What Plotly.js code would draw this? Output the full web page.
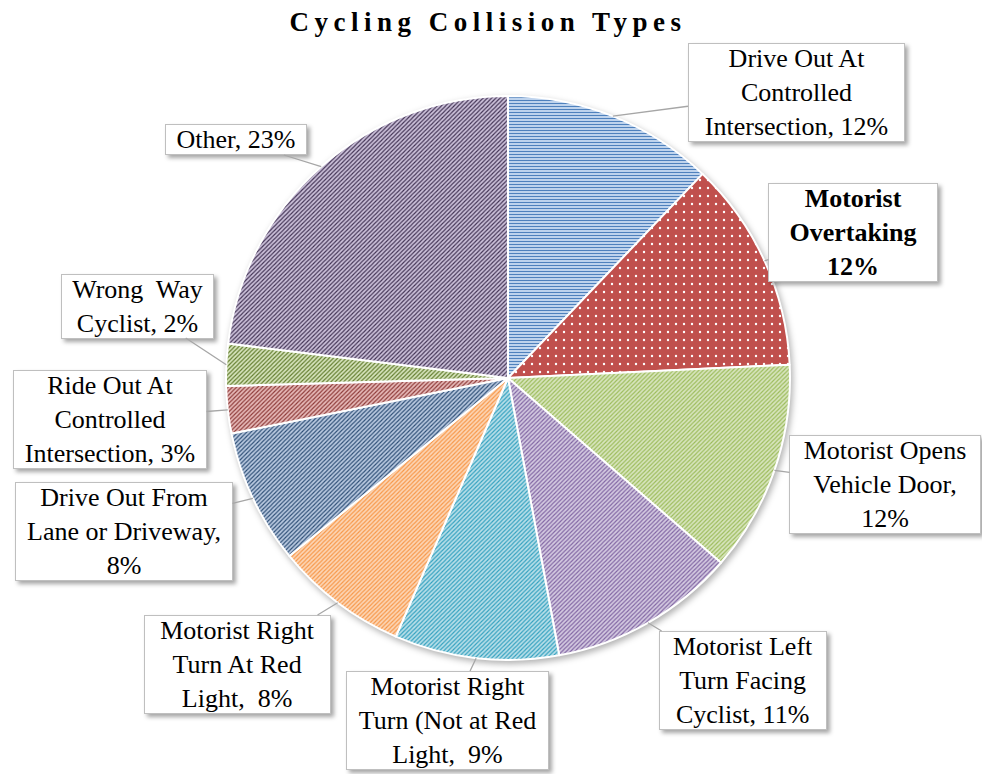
<!DOCTYPE html>
<html>
<head>
<meta charset="utf-8">
<script src="https://cdn.plot.ly/plotly-3.0.1.min.js"></script>
<style>
  html, body { margin: 0; padding: 0; background: #fff; }
  #chart { width: 982px; height: 774px; }
  .gtitle { letter-spacing: 5.5px; }
  .annotation-text-g rect.bg { filter: drop-shadow(3px 3px 2px rgba(0,0,0,0.35)); }
  .pielayer .trace { filter: drop-shadow(2px 3px 3px rgba(0,0,0,0.3)); }
</style>
</head>
<body>
<div id="chart"></div>
<script>
// ---- data ----
const categories = [
  "Drive Out At Controlled Intersection",
  "Motorist Overtaking",
  "Motorist Opens Vehicle Door",
  "Motorist Left Turn Facing Cyclist",
  "Motorist Right Turn (Not at Red Light",
  "Motorist Right Turn At Red Light",
  "Drive Out From Lane or Driveway",
  "Ride Out At Controlled Intersection",
  "Wrong Way Cyclist",
  "Other"
];
const values = [12.1, 12.1, 12.1, 10.7, 9.4, 7.6, 7.7, 2.7, 2.4, 23.0];
// label text as shown in the callouts; %p is replaced with the rounded percentage
const labelFormats = [
  "Drive Out At<br>Controlled<br>Intersection, %p",
  "<b>Motorist<br>Overtaking<br>%p</b>",
  "Motorist Opens<br>Vehicle Door,<br>%p",
  "Motorist Left<br>Turn Facing<br>Cyclist, %p",
  "Motorist Right<br>Turn (Not at Red<br>Light,  %p",
  "Motorist Right<br>Turn At Red<br>Light,  %p",
  "Drive Out From<br>Lane or Driveway,<br>%p",
  "Ride Out At<br>Controlled<br>Intersection, %p",
  "Wrong  Way<br>Cyclist, %p",
  "Other, %p"
];

// ---- style / layout ----
const bgColors = ["#c6d9f1", "#c0504d", "#d7e4bd", "#d3c9e0", "#b7dee8", "#fcd5b5", "#b9c9e0", "#e6b9b8", "#d7e4bd", "#ccc1da"];
const fgColors = ["#4f81bd", "#ffffff", "#9bbb59", "#8064a2", "#31a0bf", "#f79646", "#2c4d75", "#8c3836", "#5f7a2a", "#403152"];
const shapes   = ["-", ".", "/", "/", "/", "/", "/", "/", "/", "/"];
// callout box centers (pixels) and text widths
const boxCenters = [[796, 92], [853, 232], [885, 485], [743, 680], [447, 720], [237, 664], [124, 531], [110, 419], [137, 306], [236, 140]];
const boxWidths  = [215, 168, 190, 166, 201, 185, 216, 192, 151, 140];

const W = 982, H = 774;
const dom = { x: [0.2301, 0.8045], y: [0.1473, 0.8760] };

const total = values.reduce((a, b) => a + b, 0);
const cx = W * (dom.x[0] + dom.x[1]) / 2;
const cy = H * (1 - (dom.y[0] + dom.y[1]) / 2);
const R = Math.min(W * (dom.x[1] - dom.x[0]), H * (dom.y[1] - dom.y[0])) / 2;

const annotations = [];
let cum = 0;
values.forEach((v, i) => {
  const mid = (cum + v / 2) / total * 2 * Math.PI;
  cum += v;
  const px = cx + R * Math.sin(mid);
  const py = cy - R * Math.cos(mid);
  const pct = Math.round(v / total * 100) + "%";
  annotations.push({
    text: labelFormats[i].replace("%p", pct),
    x: px / W, y: 1 - py / H, xref: "paper", yref: "paper",
    ax: boxCenters[i][0] - px, ay: boxCenters[i][1] - py,
    showarrow: true, arrowhead: 0, arrowwidth: 1.3, arrowcolor: "#a6a6a6", standoff: 0,
    bgcolor: "#ffffff", bordercolor: "#bfbfbf", borderwidth: 1, borderpad: 0,
    width: boxWidths[i], align: "center",
    font: { family: "Liberation Serif, Times New Roman, serif", size: 26, color: "#000" }
  });
});

const trace = {
  type: "pie",
  labels: categories,
  values: values,
  sort: false,
  direction: "clockwise",
  rotation: 0,
  textinfo: "none",
  hoverinfo: "label+percent",
  domain: dom,
  marker: {
    colors: bgColors,
    line: { color: "#ffffff", width: 2 },
    pattern: {
      shape: shapes,
      bgcolor: bgColors,
      fgcolor: fgColors,
      size: shapes.map(s => s === "." ? 8 : 3),
      solidity: shapes.map(s => s === "." ? 0.07 : 0.38)
    }
  }
};

const layout = {
  width: W, height: H,
  margin: { l: 0, r: 0, t: 0, b: 0 },
  paper_bgcolor: "#ffffff",
  showlegend: false,
  title: {
    text: "<b>Cycling Collision Types</b>",
    x: 0.497, xanchor: "center",
    y: 1 - 22 / H, yref: "container", yanchor: "middle",
    font: { family: "Liberation Serif, Times New Roman, serif", size: 27, color: "#000" }
  },
  annotations: annotations
};

Plotly.newPlot("chart", [trace], layout, { displayModeBar: false, staticPlot: true });
</script>
</body>
</html>
